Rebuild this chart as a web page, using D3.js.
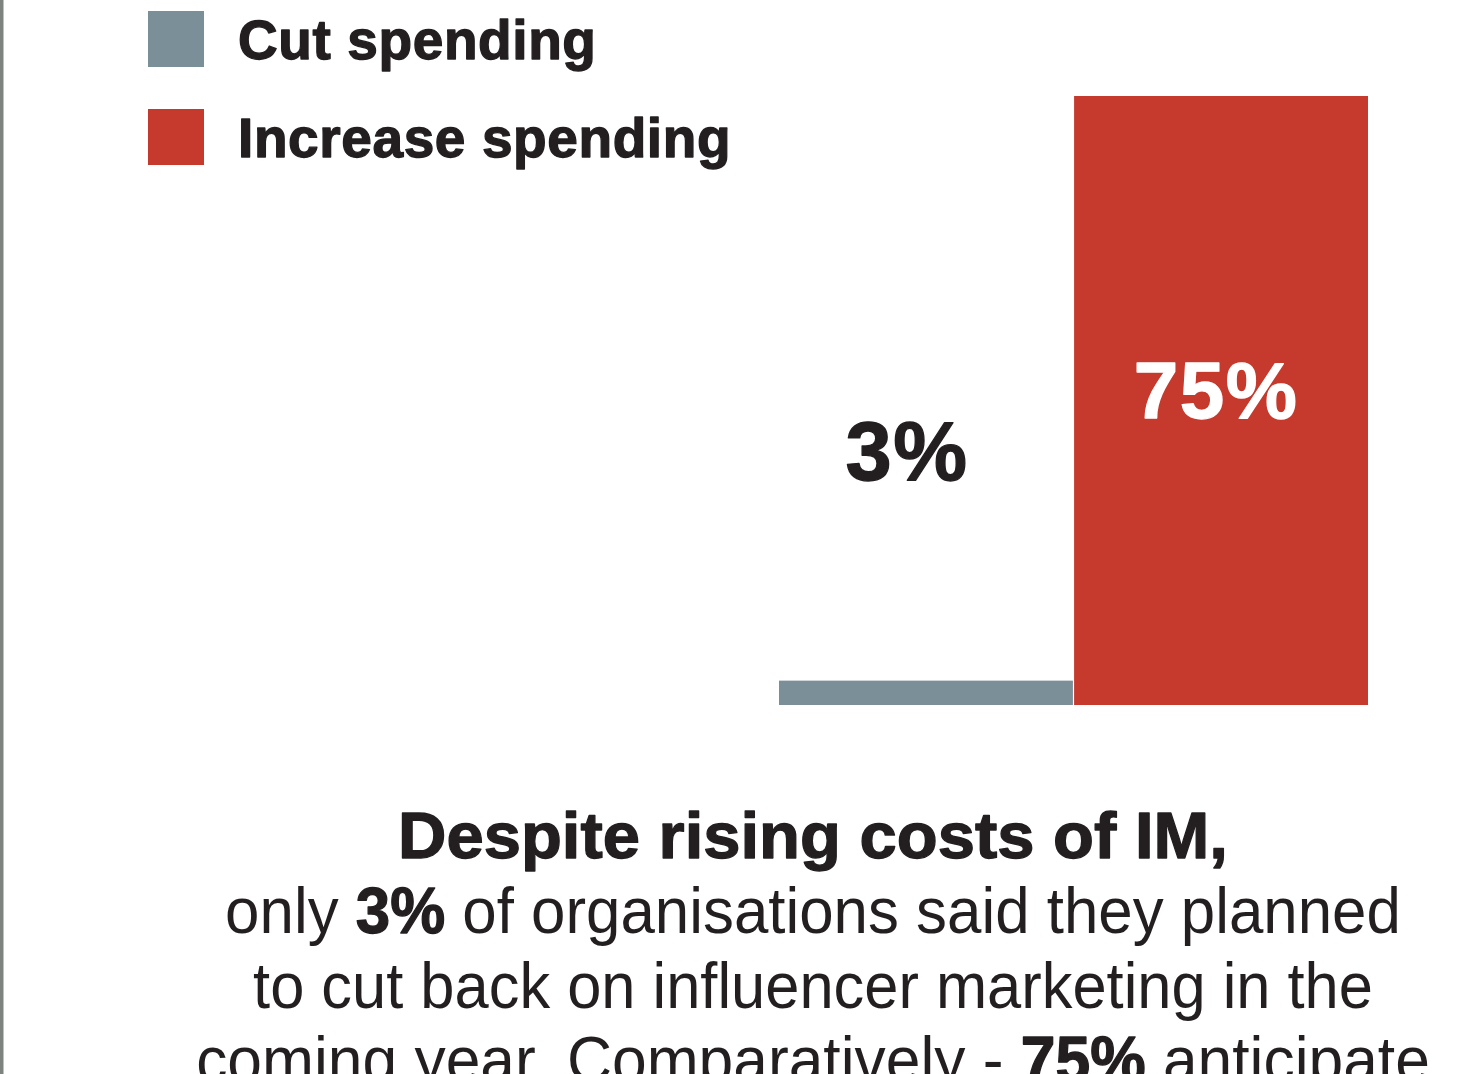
<!DOCTYPE html>
<html>
<head>
<meta charset="utf-8">
<script src="https://cdn.jsdelivr.net/npm/d3@7"></script>
<style>
  html, body { margin: 0; padding: 0; background: #ffffff; }
  svg { display: block; }
  text { font-family: "Liberation Sans", Arial, Helvetica, sans-serif; fill: #231f20; }
  .heavy { stroke: #231f20; stroke-width: 1.3px; stroke-linejoin: round; }
  .heavy.light { stroke: #ffffff; }
</style>
</head>
<body>
<script>
// Survey answers: share of organisations planning to change influencer spend
const categories = ["Cut spending", "Increase spending"];
const values = [3, 75];
const valueLabels = ["3%", "75%"];
const seriesColors = ["#7b8f99", "#c6392d"];

// Caption under the chart, one array of [text, bold] runs per line
const captionLines = [
  [["Despite rising costs of IM,", true]],
  [["only ", false], ["3%", true], [" of organisations said they planned", false]],
  [["to cut back on influencer marketing in the", false]],
  [["coming year. Comparatively - ", false], ["75%", true], [" anticipate", false]]
];

const W = 1469, H = 1074;
const svg = d3.select("body").append("svg")
  .attr("width", W).attr("height", H);

// page edge rule on the left
svg.append("rect").attr("x", 0).attr("y", 0)
  .attr("width", 3.5).attr("height", H).attr("fill", "#7f8380");

// scales
const x = d3.scaleBand().domain(categories).range([779, 1368]).paddingInner(0.004);
const y = d3.scaleLinear().domain([0, 75]).range([705, 96]);
const color = d3.scaleOrdinal().domain(categories).range(seriesColors);

// bars
svg.append("g").selectAll("rect")
  .data(categories)
  .join("rect")
  .attr("x", d => x(d))
  .attr("width", x.bandwidth())
  .attr("y", (d, i) => y(values[i]))
  .attr("height", (d, i) => y(0) - y(values[i]))
  .attr("fill", d => color(d));

// value labels: dark one floats over the short bar, white one sits inside the tall bar
const labelStyle = [
  { y: 480, dx: -19, size: 83, light: false },
  { y: 418, dx: -5, size: 80, light: true }
];
svg.append("g").selectAll("text")
  .data(categories)
  .join("text")
  .attr("class", (d, i) => labelStyle[i].light ? "heavy light" : "heavy")
  .attr("x", (d, i) => x(d) + x.bandwidth() / 2 + labelStyle[i].dx)
  .attr("y", (d, i) => labelStyle[i].y)
  .attr("text-anchor", "middle")
  .attr("font-weight", 700)
  .attr("font-size", (d, i) => labelStyle[i].size)
  .attr("letter-spacing", 1.5)
  .style("fill", (d, i) => labelStyle[i].light ? "#ffffff" : "#231f20")
  .text((d, i) => valueLabels[i]);

// legend
const legend = svg.append("g").selectAll("g")
  .data(categories)
  .join("g")
  .attr("transform", (d, i) => `translate(148, ${11 + i * 98})`);
legend.append("rect")
  .attr("width", 56).attr("height", 56)
  .attr("fill", d => color(d));
legend.append("text")
  .attr("class", "heavy")
  .attr("x", 90).attr("y", 48)
  .attr("font-weight", 700)
  .attr("font-size", 55)
  .attr("letter-spacing", 0.6)
  .text(d => d);

// caption, each line centred and fitted to its set width
const captionCx = 813;
const captionLayout = [
  { y: 858, size: 65, width: 830 },
  { y: 933, size: 64, width: 1176 },
  { y: 1008, size: 64, width: 1120 },
  { y: 1082, size: 64, width: 1234 }
];
const caption = svg.append("g");
captionLines.forEach((runs, li) => {
  const L = captionLayout[li];
  const t = caption.append("text")
    .attr("x", captionCx).attr("y", L.y)
    .attr("text-anchor", "middle")
    .attr("font-size", L.size)
    .attr("font-weight", li === 0 ? 700 : 400);
  runs.forEach(([s, bold]) => {
    t.append("tspan")
      .attr("class", bold ? "heavy" : null)
      .attr("font-weight", bold ? 700 : 400)
      .text(s);
  });
  const w = t.node().getComputedTextLength();
  const sx = L.width / w;
  t.attr("transform", `translate(${captionCx},0) scale(${sx},1) translate(${-captionCx},0)`);
});
</script>
</body>
</html>
